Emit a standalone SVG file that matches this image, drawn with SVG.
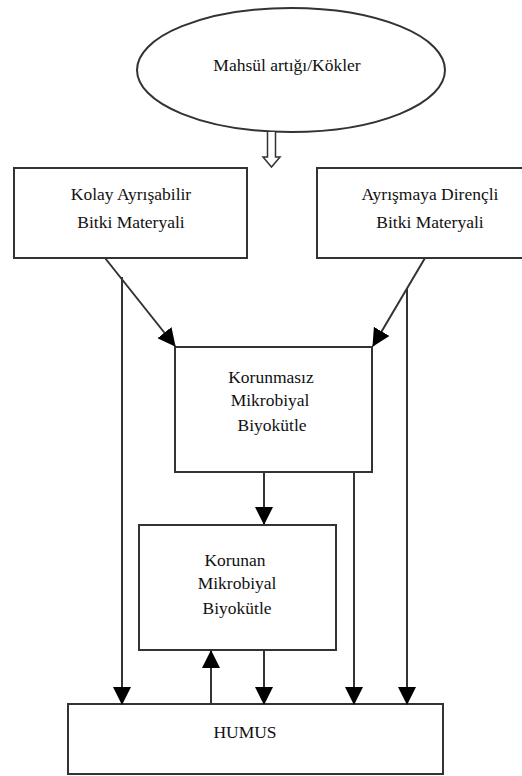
<svg xmlns="http://www.w3.org/2000/svg" width="522" height="776" viewBox="0 0 522 776">
<style>
.box{fill:#fff;stroke:#333;stroke-width:2}
.t{font-family:'Liberation Serif','DejaVu Serif',serif;font-size:17.5px;fill:#111;text-anchor:middle}
.c{fill:none;stroke:#333;stroke-width:2}
</style>
<defs>
<marker id="ah" markerUnits="userSpaceOnUse" markerWidth="18" markerHeight="18" refX="17" refY="9" orient="auto">
<path d="M0,0 L18,9 L0,18 z" fill="#000"/>
</marker>
</defs>
<rect width="522" height="776" fill="#fff"/>
<g id="n-mahsul">
<ellipse class="box" cx="291" cy="70" rx="154" ry="62"/>
<text class="t" x="287" y="71" font-family="Liberation Serif, serif">Mahsül artığı/Kökler</text>
</g>
<g id="n-kolay">
<rect class="box" x="14" y="168" width="233" height="90"/>
<text class="t" x="131" y="200" font-family="Liberation Serif, serif">Kolay Ayrışabilir</text>
<text class="t" x="131" y="228" font-family="Liberation Serif, serif">Bitki Materyali</text>
</g>
<g id="n-direncli">
<rect class="box" x="317" y="168" width="210" height="90"/>
<text class="t" x="430" y="200" font-family="Liberation Serif, serif">Ayrışmaya Dirençli</text>
<text class="t" x="430" y="228" font-family="Liberation Serif, serif">Bitki Materyali</text>
</g>
<g id="n-korunmasiz">
<rect class="box" x="175" y="347" width="197" height="125"/>
<text class="t" x="271" y="383" font-family="Liberation Serif, serif">Korunmasız</text>
<text class="t" x="270" y="406" font-family="Liberation Serif, serif">Mikrobiyal</text>
<text class="t" x="272" y="431" font-family="Liberation Serif, serif">Biyokütle</text>
</g>
<g id="n-korunan">
<rect class="box" x="139" y="525" width="197" height="125"/>
<text class="t" x="235" y="566" font-family="Liberation Serif, serif">Korunan</text>
<text class="t" x="237" y="589" font-family="Liberation Serif, serif">Mikrobiyal</text>
<text class="t" x="237" y="614" font-family="Liberation Serif, serif">Biyokütle</text>
</g>
<g id="n-humus">
<rect class="box" x="68" y="704" width="375" height="70"/>
<text class="t" x="245" y="738" font-family="Liberation Serif, serif">HUMUS</text>
</g>
<g id="connectors">
<path d="M267.5,132 V157 H263 L271.5,167 L280,157 H275.5 V132" fill="#fff" stroke="#333" stroke-width="1.5" stroke-linejoin="miter"/>
<line class="c" x1="105" y1="258" x2="175" y2="346" marker-end="url(#ah)"/>
<line class="c" x1="425" y1="258" x2="373" y2="346" marker-end="url(#ah)"/>
<line class="c" x1="122" y1="277" x2="122" y2="704" marker-end="url(#ah)"/>
<line class="c" x1="407" y1="289" x2="407" y2="704" marker-end="url(#ah)"/>
<line class="c" x1="354" y1="472" x2="354" y2="704" marker-end="url(#ah)"/>
<line class="c" x1="264" y1="472" x2="264" y2="524" marker-end="url(#ah)"/>
<line class="c" x1="211" y1="704" x2="211" y2="651" marker-end="url(#ah)"/>
<line class="c" x1="264" y1="650" x2="264" y2="704" marker-end="url(#ah)"/>
</g>
</svg>
